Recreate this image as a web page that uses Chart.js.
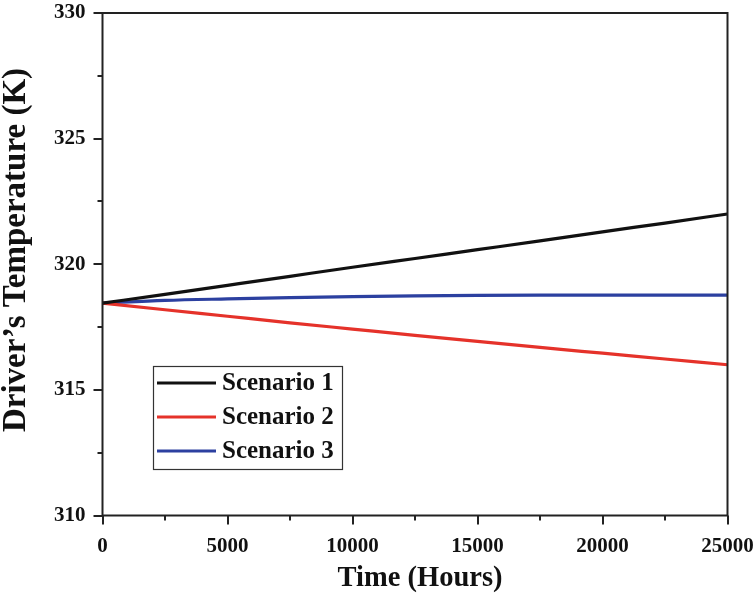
<!DOCTYPE html>
<html>
<head>
<meta charset="utf-8">
<script src="https://cdn.jsdelivr.net/npm/chart.js@4"></script>
<style>
html,body{margin:0;padding:0;background:#fff;}
#wrap{width:756px;height:597px;position:relative;}
</style>
</head>
<body>
<div id="wrap"><canvas id="c" width="756" height="597"></canvas></div>
<script>
const hours = [0, 2500, 5000, 7500, 10000, 12500, 15000, 17500, 20000, 22500, 25000];
const scenario1 = [318.45, 318.80, 319.16, 319.52, 319.88, 320.23, 320.58, 320.93, 321.29, 321.64, 322.00];
const scenario2 = [318.45, 318.19, 317.93, 317.67, 317.42, 317.17, 316.93, 316.69, 316.46, 316.23, 316.00];
const scenario3 = [318.45, 318.56, 318.62, 318.67, 318.71, 318.74, 318.76, 318.77, 318.77, 318.77, 318.77];
const seriesLabels = ['Scenario 1', 'Scenario 2', 'Scenario 3'];
const xTitle = 'Time (Hours)';
const yTitle = 'Driver\u2019s Temperature (K)';

const FONT = '"Liberation Serif", "Times New Roman", serif';
const colors = ['#111111', '#e5322a', '#2c40a0'];

function pts(ys){ return hours.map((h,i)=>({x:h, y:ys[i]})); }

const framePlugin = {
  id: 'frame',
  afterDraw(chart){
    const ctx = chart.ctx, a = chart.chartArea;
    const xs = chart.scales.x, ys = chart.scales.y;
    ctx.save();
    ctx.strokeStyle = '#222';
    ctx.lineWidth = 2;
    ctx.strokeRect(a.left, a.top, a.right - a.left, a.bottom - a.top);
    ctx.beginPath();
    for (let v = 0; v <= 25000; v += 2500) {
      const px = Math.round(xs.getPixelForValue(v));
      const len = (v % 5000 === 0) ? 9 : 5;
      ctx.moveTo(px, a.bottom); ctx.lineTo(px, a.bottom + len);
    }
    for (let v = 310; v <= 330; v += 2.5) {
      const py = Math.round(ys.getPixelForValue(v));
      const len = (v % 5 === 0) ? 9 : 5;
      ctx.moveTo(a.left, py); ctx.lineTo(a.left - len, py);
    }
    ctx.stroke();
    // axis titles
    ctx.fillStyle = '#111';
    ctx.textAlign = 'center';
    ctx.textBaseline = 'middle';
    ctx.font = 'bold 28.5px ' + FONT;
    ctx.fillText(xTitle, 420, 579);
    ctx.save();
    ctx.translate(16, 250);
    ctx.rotate(-Math.PI / 2);
    ctx.font = 'bold 33px ' + FONT;
    ctx.fillText(yTitle, 0, 0);
    ctx.restore();
    // legend
    const bx = 153, by = 366, bw = 189, bh = 103;
    ctx.lineWidth = 1.2;
    ctx.strokeStyle = '#333';
    ctx.strokeRect(bx + 0.5, by + 0.5, bw, bh);
    ctx.font = 'bold 25px ' + FONT;
    ctx.textBaseline = 'middle';
    ctx.textAlign = 'left';
    chart.data.datasets.forEach((ds, i) => {
      const yy = by + 17 + i * 34;
      ctx.strokeStyle = ds.borderColor;
      ctx.lineWidth = 3;
      ctx.beginPath(); ctx.moveTo(157, yy); ctx.lineTo(216, yy); ctx.stroke();
      ctx.fillStyle = '#111';
      ctx.fillText(ds.label, 222, yy + 1);
    });
    ctx.restore();
  }
};

new Chart(document.getElementById('c'), {
  type: 'line',
  data: {
    datasets: [
      {label: seriesLabels[0], data: pts(scenario1), borderColor: colors[0]},
      {label: seriesLabels[1], data: pts(scenario2), borderColor: colors[1]},
      {label: seriesLabels[2], data: pts(scenario3), borderColor: colors[2]}
    ].map(d => Object.assign(d, {borderWidth: 3.2, pointRadius: 0, fill: false, tension: 0, cubicInterpolationMode: 'monotone'}))
  },
  options: {
    responsive: false,
    animation: false,
    layout: {padding: {left: 0, right: 28.5, top: 13, bottom: 0}},
    plugins: {legend: {display: false}, tooltip: {enabled: false}},
    scales: {
      x: {
        type: 'linear', min: 0, max: 25000,
        afterFit(s){ s.height = 81.5; s.paddingLeft = 0; s.paddingRight = 0; },
        grid: {display: false, drawTicks: false},
        border: {display: false},
        ticks: {
          stepSize: 5000, maxRotation: 0, padding: 18, color: '#111',
          callback: v => String(v),
          font: {family: FONT, size: 21, weight: 'bold'}
        },
        title: {display: false}
      },
      y: {
        min: 310, max: 330,
        afterFit(s){ s.width = 102.5; s.paddingTop = 0; s.paddingBottom = 0; },
        grid: {display: false, drawTicks: false},
        border: {display: false},
        ticks: {
          stepSize: 5, padding: 17, color: '#111',
          callback: v => String(v),
          font: {family: FONT, size: 21, weight: 'bold'}
        },
        title: {display: false}
      }
    }
  },
  plugins: [framePlugin]
});
</script>
</body>
</html>
